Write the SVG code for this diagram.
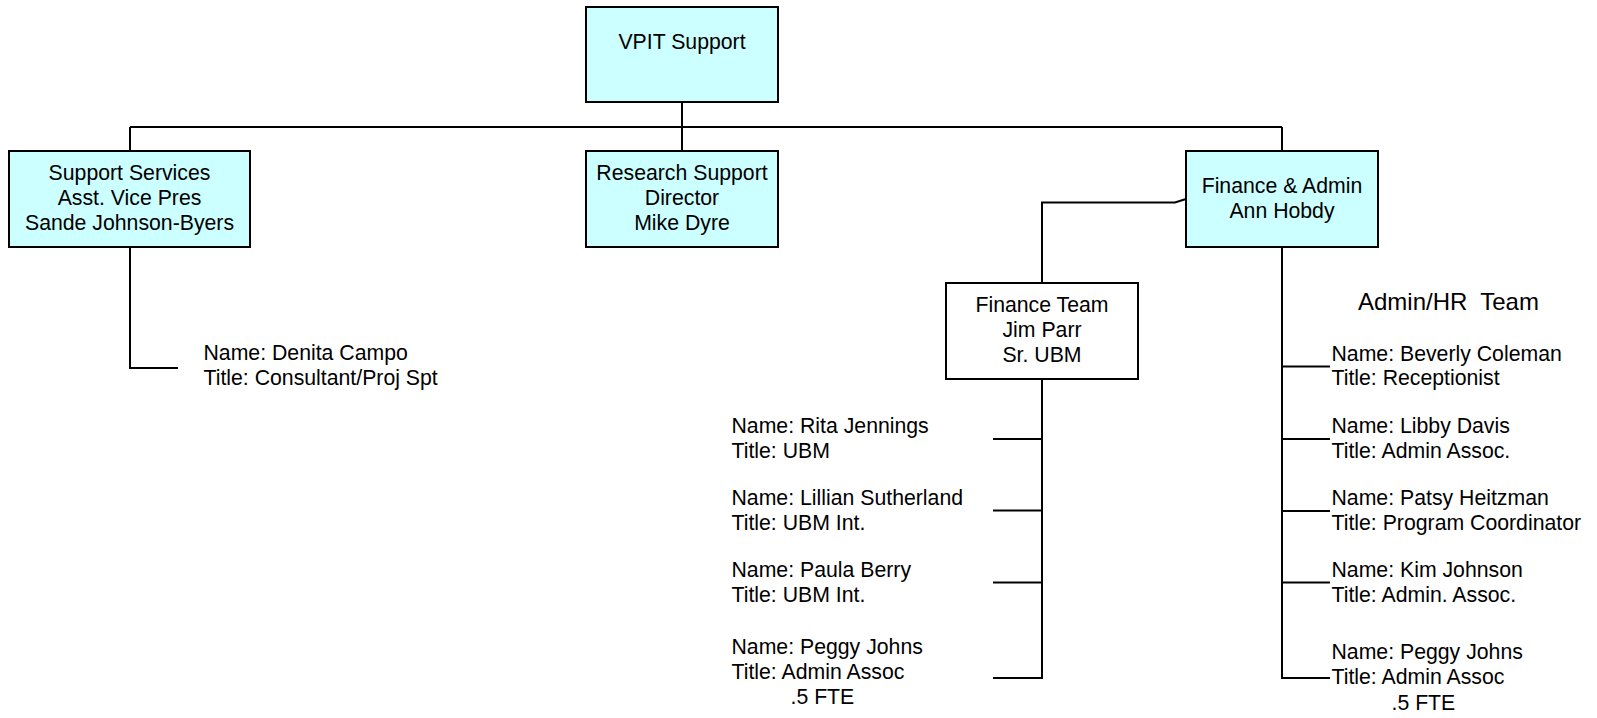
<svg xmlns="http://www.w3.org/2000/svg" width="1597" height="718" viewBox="0 0 1597 718">
<style>
.box{fill:#CCFFFF;stroke:#000;stroke-width:2}
.wbox{fill:#FFFFFF;stroke:#000;stroke-width:2}
.ln{fill:none;stroke:#000;stroke-width:2}
text{font-family:"Liberation Sans",Arial,sans-serif;font-size:21.25px;fill:#000}
.c{text-anchor:middle}
.hdr{font-size:24px}
</style>
<rect width="1597" height="718" fill="#FFFFFF"/>
<g id="connectors">
<path class="ln" d="M682 102 V151"/>
<path class="ln" d="M130 127 H1282"/>
<path class="ln" d="M130 127 V151"/>
<path class="ln" d="M1282 127 V151"/>
<path class="ln" d="M130 247 V368 H178"/>
<path class="ln" d="M1186 199 L1175 202.5 H1042 V283"/>
<path class="ln" d="M1042 379 V678 H993"/>
<path class="ln" d="M993 439 H1042 M993 510.5 H1042 M993 582.5 H1042"/>
<path class="ln" d="M1282 247 V678 H1330"/>
<path class="ln" d="M1282 366.5 H1330 M1282 439 H1330 M1282 511 H1330 M1282 582.5 H1330"/>
</g>
<g id="vpit">
<rect class="box" x="586" y="7" width="192" height="95"/>
<text class="c" x="682" y="49">VPIT Support</text>
</g>
<g id="support-services">
<rect class="box" x="9" y="151" width="241" height="96"/>
<text class="c" x="129.5" y="180">Support Services</text>
<text class="c" x="129.5" y="204.5">Asst. Vice Pres</text>
<text class="c" x="129.5" y="229.5">Sande Johnson-Byers</text>
</g>
<g id="research-support">
<rect class="box" x="586" y="151" width="192" height="96"/>
<text class="c" x="682" y="180">Research Support</text>
<text class="c" x="682" y="205">Director</text>
<text class="c" x="682" y="230">Mike Dyre</text>
</g>
<g id="finance-admin">
<rect class="box" x="1186" y="151" width="192" height="96"/>
<text class="c" x="1282" y="193">Finance &amp; Admin</text>
<text class="c" x="1282" y="218">Ann Hobdy</text>
</g>
<g id="finance-team">
<rect class="wbox" x="946" y="283" width="192" height="96"/>
<text class="c" x="1042" y="311.5">Finance Team</text>
<text class="c" x="1042" y="336.5">Jim Parr</text>
<text class="c" x="1042" y="361.5">Sr. UBM</text>
</g>
<g id="denita">
<text x="203.5" y="360">Name: Denita Campo</text>
<text x="203.5" y="385">Title: Consultant/Proj Spt</text>
</g>
<g id="rita">
<text x="731.5" y="433">Name: Rita Jennings</text>
<text x="731.5" y="458">Title: UBM</text>
</g>
<g id="lillian">
<text x="731.5" y="505">Name: Lillian Sutherland</text>
<text x="731.5" y="529.5">Title: UBM Int.</text>
</g>
<g id="paula">
<text x="731.5" y="577">Name: Paula Berry</text>
<text x="731.5" y="601.5">Title: UBM Int.</text>
</g>
<g id="peggy-finance">
<text x="731.5" y="654">Name: Peggy Johns</text>
<text x="731.5" y="679">Title: Admin Assoc</text>
<text x="790.5" y="704">.5 FTE</text>
</g>
<g id="admin-hr-team">
<text class="hdr" x="1358" y="310" xml:space="preserve">Admin/HR  Team</text>
</g>
<g id="beverly">
<text x="1331.5" y="360.5">Name: Beverly Coleman</text>
<text x="1331.5" y="385">Title: Receptionist</text>
</g>
<g id="libby">
<text x="1331.5" y="433">Name: Libby Davis</text>
<text x="1331.5" y="458">Title: Admin Assoc.</text>
</g>
<g id="patsy">
<text x="1331.5" y="505">Name: Patsy Heitzman</text>
<text x="1331.5" y="529.5">Title: Program Coordinator</text>
</g>
<g id="kim">
<text x="1331.5" y="576.5">Name: Kim Johnson</text>
<text x="1331.5" y="601.5">Title: Admin. Assoc.</text>
</g>
<g id="peggy-admin">
<text x="1331.5" y="659">Name: Peggy Johns</text>
<text x="1331.5" y="684">Title: Admin Assoc</text>
<text x="1391.5" y="710">.5 FTE</text>
</g>
</svg>
